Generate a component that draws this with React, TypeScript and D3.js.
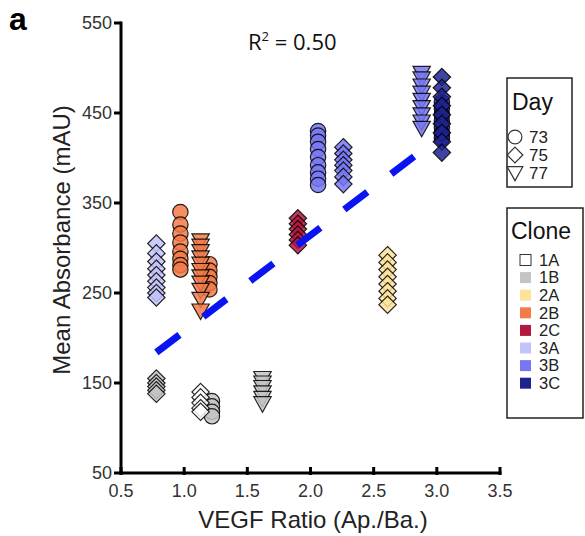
import React from 'react';
import * as d3 from 'd3';

// clone / day keys for the legends
const clones = ['1A', '1B', '2A', '2B', '2C', '3A', '3B', '3C'];
const cloneColors = ['#ffffff', '#c4c4c4', '#fde29a', '#f27b48', '#b3183f', '#c3c3fb', '#7777f2', '#1f2390'];
const days = [73, 75, 77];
const dayShapes = ['circle', 'diamond', 'triangle'];

const xTicks = [0.5, 1.0, 1.5, 2.0, 2.5, 3.0, 3.5];
const yTicks = [50, 150, 250, 350, 450, 550];

// measured columns: clone, day, VEGF ratio, mean absorbance values
const groups = [
  { clone: '3A', day: 75, ratio: 0.78, values: [305, 294, 285, 277, 270, 263, 256, 250, 245] },
  { clone: '1B', day: 75, ratio: 0.78, values: [155, 150, 146, 142, 138] },
  { clone: '2B', day: 73, ratio: 0.97, values: [340, 326, 316, 306, 296, 288, 281, 276] },
  { clone: '2B', day: 73, ratio: 1.2, values: [282, 275, 268, 261, 254] },
  { clone: '2B', day: 77, ratio: 1.13, values: [308, 302, 296, 289, 282, 275, 268, 261, 253, 243, 230] },
  { clone: '1B', day: 73, ratio: 1.22, values: [130, 124, 118, 113] },
  { clone: '1A', day: 75, ratio: 1.13, values: [140, 134, 128, 122, 118] },
  { clone: '1B', day: 77, ratio: 1.62, values: [155, 150, 145, 139, 133, 127] },
  { clone: '2C', day: 75, ratio: 1.9, values: [333, 327, 321, 315, 309, 303] },
  { clone: '3B', day: 73, ratio: 2.06, values: [430, 425, 418, 410, 401, 392, 384, 377, 370] },
  { clone: '3B', day: 75, ratio: 2.26, values: [412, 405, 398, 392, 386, 379, 371] },
  { clone: '2A', day: 75, ratio: 2.61, values: [292, 284, 276, 268, 260, 252, 244, 237] },
  { clone: '3B', day: 77, ratio: 2.88, values: [494, 488, 480, 472, 464, 456, 448, 440, 433] },
  { clone: '3C', day: 73, ratio: 3.04, values: [462, 455, 448, 441, 434, 427, 422] },
  { clone: '3C', day: 75, ratio: 3.04, values: [490, 478, 468, 458, 448, 438, 428, 418, 406] },
];

// least-squares fit as drawn: start point and slope
const fitStart = { x: 0.78, y: 184 };
const fitSlope = 106.7;
const fitEndX = 2.82;

function shapePath(shape, s = 1) {
  if (shape === 'circle') {
    const p = d3.path();
    p.arc(0, 0, 7.7 * s, 0, 2 * Math.PI);
    p.closePath();
    return p.toString();
  }
  if (shape === 'diamond') {
    const h = 8.7 * s;
    return `M0,${-h}L${h},0L0,${h}L${-h},0Z`;
  }
  const w = 8.7 * s;
  return `M${-w},${-7 * s}L${w},${-7 * s}L0,${8.5 * s}Z`;
}

export default function App() {
  const x = d3.scaleLinear().domain([0.5, 3.5]).range([121, 500]);
  const y = d3.scaleLinear().domain([50, 550]).range([473, 23]);
  const font = 'Arial, "Liberation Sans", sans-serif';

  const fitLine = d3.line<number>()
    .x(d => x(d))
    .y(d => y(fitStart.y + fitSlope * (d - fitStart.x)));

  return (
    <svg width={585} height={536} style={{ position: 'absolute', left: 0, top: 0, background: '#fff' }} fontFamily={font}>
      <text x={9} y={30} fontSize={32} fontWeight="bold">a</text>

      {/* points */}
      {groups.map((g, gi) => {
        const shape = dayShapes[days.indexOf(g.day)];
        const color = cloneColors[clones.indexOf(g.clone)];
        return (
          <g key={gi}>
            {g.values.map((v, i) => (
              <path key={i} d={shapePath(shape)} transform={`translate(${x(g.ratio)},${y(v)})`}
                fill={color} fillOpacity={0.85} stroke="#000" strokeOpacity={0.85} strokeWidth={1.2} />
            ))}
          </g>
        );
      })}

      {/* regression */}
      <path d={fitLine([fitStart.x, fitEndX]) || ''} stroke="#0a14f2" strokeWidth={7} strokeDasharray="29 30" fill="none" />
      <text x={248} y={50} fontSize={22} fontFamily='"Open Sans", sans-serif' fill="#111">
        R<tspan dy={-9} fontSize={13}>2</tspan><tspan dy={9}> = 0.50</tspan>
      </text>

      {/* axes */}
      <line x1={121} x2={121} y1={y(550) - 1.5} y2={y(50) + 1.5} stroke="#000" strokeWidth={3} />
      <line x1={119.5} x2={x(3.5) + 1.5} y1={473} y2={473} stroke="#000" strokeWidth={3} />
      {yTicks.map(t => (
        <g key={t}>
          <line x1={114} x2={121} y1={y(t)} y2={y(t)} stroke="#000" strokeWidth={3} />
          <text x={112} y={y(t)} dy="0.35em" textAnchor="end" fontSize={18} fill="#333">{t}</text>
        </g>
      ))}
      {xTicks.map(t => (
        <g key={t}>
          <line x1={x(t)} x2={x(t)} y1={467} y2={475} stroke="#000" strokeWidth={3} />
          <text x={x(t)} y={497} textAnchor="middle" fontSize={18} fill="#333">{t.toFixed(1)}</text>
        </g>
      ))}
      <text x={313} y={528} textAnchor="middle" fontSize={24} fill="#222">VEGF Ratio (Ap./Ba.)</text>
      <text transform={`translate(70,240) rotate(-90)`} textAnchor="middle" fontSize={24} fill="#222">Mean Absorbance (mAU)</text>

      {/* Day legend */}
      <rect x={507} y={78} width={65} height={109} fill="#fff" stroke="#222" strokeWidth={1.5} />
      <text x={512} y={110} fontSize={23} fill="#111">Day</text>
      {days.map((d, i) => (
        <g key={d} transform={`translate(0,${137 + i * 18})`}>
          <path d={shapePath(dayShapes[i], 0.9)} transform="translate(515,0)" fill="#fff" stroke="#333" strokeWidth={1.2} />
          <text x={529} y={0} dy="0.35em" fontSize={17} fill="#222">{d}</text>
        </g>
      ))}

      {/* Clone legend */}
      <rect x={507} y={208} width={76} height={210} fill="#fff" stroke="#222" strokeWidth={1.5} />
      <text x={511} y={239} fontSize={23} fill="#111">Clone</text>
      {clones.map((c, i) => (
        <g key={c} transform={`translate(0,${260 + i * 17.6})`}>
          <rect x={520} y={-5.5} width={11} height={11} fill={cloneColors[i]}
            stroke={c === '1A' ? '#333' : 'none'} strokeWidth={1} />
          <text x={539} y={0} dy="0.35em" fontSize={16.5} fill="#222">{c}</text>
        </g>
      ))}
    </svg>
  );
}
